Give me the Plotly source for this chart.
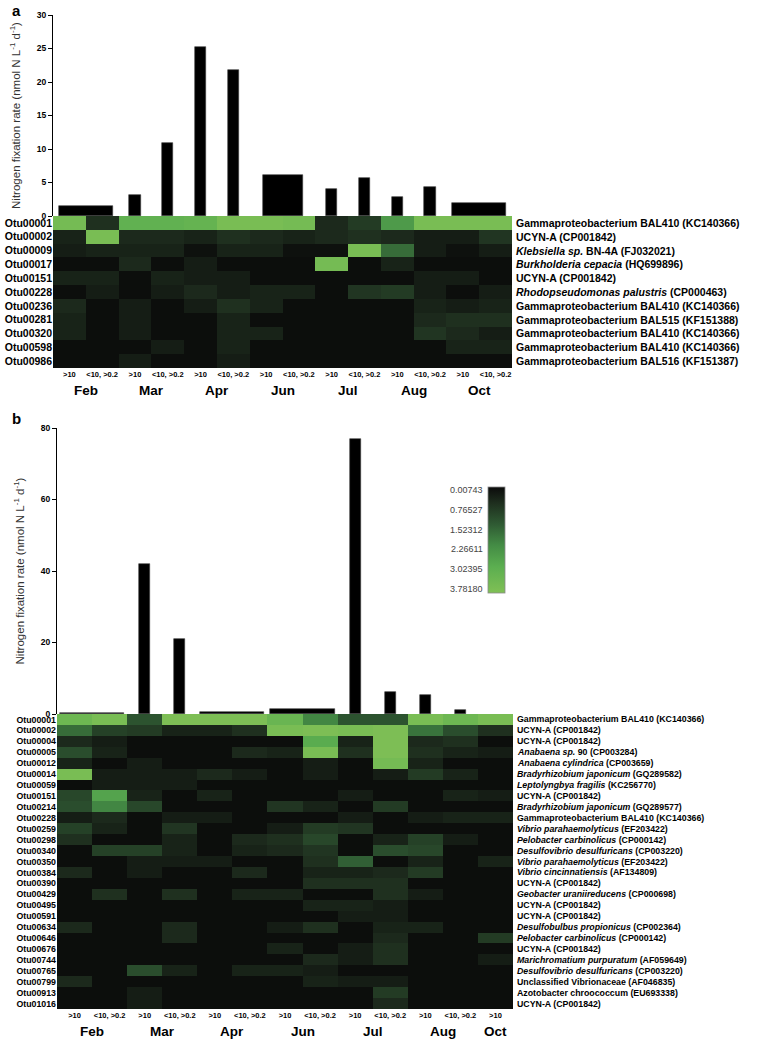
import plotly.graph_objects as go

W, H = 758, 1040
FONT = "Liberation Sans"

# ---- shared categories ----
months = ["Feb", "Mar", "Apr", "Jun", "Jul", "Aug", "Oct"]
fractions = [">10", "<10, >0.2"]
cols_a = [(m, f) for m in months for f in fractions]
cols_b = cols_a[:-1]  # no Oct <10, >0.2 sample in panel b

# ---- panel a: nitrogen fixation (nmol N L-1 d-1) ----
rate_a = [None, None, 3.2, 10.9, 25.2, 21.8, None, None, 4.0, 5.6, 2.8, 4.4, None, None]
bulk_months_a = ["Feb", "Jun", "Oct"]
bulk_rate_a = [1.5, 6.1, 1.9]

otu_a = ["Otu00001", "Otu00002", "Otu00009", "Otu00017", "Otu00151", "Otu00228",
         "Otu00236", "Otu00281", "Otu00320", "Otu00598", "Otu00986"]
taxa_a = [
    "Gammaproteobacterium BAL410 (KC140366)",
    "UCYN-A (CP001842)",
    "<i>Klebsiella sp.</i> BN-4A (FJ032021)",
    "<i>Burkholderia cepacia</i> (HQ699896)",
    "UCYN-A (CP001842)",
    "<i>Rhodopseudomonas palustris</i> (CP000463)",
    "Gammaproteobacterium BAL410 (KC140366)",
    "Gammaproteobacterium BAL515 (KF151388)",
    "Gammaproteobacterium BAL410 (KC140366)",
    "Gammaproteobacterium BAL410 (KC140366)",
    "Gammaproteobacterium BAL516 (KF151387)",
]
heat_a = [
    [3.5, 0.6, 3.0, 3.0, 3.1, 3.6, 3.6, 3.5, 0.5, 0.8, 2.4, 3.6, 3.6, 3.6],
    [0.4, 3.6, 0.5, 0.5, 0.4, 0.6, 0.5, 0.4, 0.5, 0.6, 0.5, 0.3, 0.3, 0.7],
    [0.3, 0.4, 0.4, 0.4, 0.1, 0.4, 0.4, 0.1, 0.1, 3.6, 1.6, 0.3, 0.1, 0.3],
    [0.05, 0.05, 0.5, 0.05, 0.3, 0.05, 0.05, 0.05, 3.5, 0.05, 0.4, 0.05, 0.05, 0.05],
    [0.4, 0.4, 0.05, 0.4, 0.3, 0.3, 0.05, 0.05, 0.05, 0.05, 0.05, 0.3, 0.3, 0.05],
    [0.05, 0.3, 0.05, 0.3, 0.5, 0.3, 0.4, 0.4, 0.05, 0.7, 0.8, 0.3, 0.05, 0.3],
    [0.5, 0.05, 0.3, 0.05, 0.3, 0.6, 0.4, 0.05, 0.05, 0.05, 0.05, 0.4, 0.3, 0.4],
    [0.4, 0.05, 0.3, 0.05, 0.05, 0.4, 0.05, 0.05, 0.05, 0.05, 0.05, 0.5, 0.6, 0.6],
    [0.4, 0.05, 0.3, 0.05, 0.05, 0.4, 0.4, 0.05, 0.05, 0.05, 0.05, 0.7, 0.5, 0.3],
    [0.05, 0.05, 0.05, 0.3, 0.05, 0.4, 0.05, 0.05, 0.05, 0.05, 0.05, 0.05, 0.4, 0.4],
    [0.05, 0.05, 0.3, 0.05, 0.05, 0.3, 0.05, 0.05, 0.05, 0.05, 0.05, 0.05, 0.05, 0.05],
]

# ---- panel b ----
rate_b = [None, None, 42.0, 20.9, None, None, None, None, 77.0, 6.2, 5.3, 1.1, None]
bulk_months_b = ["Feb", "Apr", "Jun"]
bulk_rate_b = [0.2, 0.7, 1.5]

otu_b = ["Otu00001", "Otu00002", "Otu00004", "Otu00005", "Otu00012", "Otu00014",
         "Otu00059", "Otu00151", "Otu00214", "Otu00228", "Otu00259", "Otu00298",
         "Otu00340", "Otu00350", "Otu00384", "Otu00390", "Otu00429", "Otu00495",
         "Otu00591", "Otu00634", "Otu00646", "Otu00676", "Otu00744", "Otu00765",
         "Otu00799", "Otu00913", "Otu01016"]
taxa_b = [
    "Gammaproteobacterium BAL410 (KC140366)",
    "UCYN-A (CP001842)",
    "UCYN-A (CP001842)",
    "<i>Anabaena sp.</i> 90 (CP003284)",
    "<i>Anabaena cylindrica</i> (CP003659)",
    "<i>Bradyrhizobium japonicum</i> (GQ289582)",
    "<i>Leptolyngbya fragilis</i> (KC256770)",
    "UCYN-A (CP001842)",
    "<i>Bradyrhizobium japonicum</i> (GQ289577)",
    "Gammaproteobacterium BAL410 (KC140366)",
    "<i>Vibrio parahaemolyticus</i> (EF203422)",
    "<i>Pelobacter carbinolicus</i> (CP000142)",
    "<i>Desulfovibrio desulfuricans</i> (CP003220)",
    "<i>Vibrio parahaemolyticus</i> (EF203422)",
    "<i>Vibrio cincinnatiensis</i> (AF134809)",
    "UCYN-A (CP001842)",
    "<i>Geobacter uraniireducens</i> (CP000698)",
    "UCYN-A (CP001842)",
    "UCYN-A (CP001842)",
    "<i>Desulfobulbus propionicus</i> (CP002364)",
    "<i>Pelobacter carbinolicus</i> (CP000142)",
    "UCYN-A (CP001842)",
    "<i>Marichromatium purpuratum</i> (AF059649)",
    "<i>Desulfovibrio desulfuricans</i> (CP003220)",
    "Unclassified Vibrionaceae (AF046835)",
    "Azotobacter chroococcum (EU693338)",
    "UCYN-A (CP001842)",
]
heat_b = [
    [3.3, 3.6, 1.2, 3.7, 3.7, 3.7, 3.2, 2.0, 1.2, 1.2, 3.6, 3.3, 3.6],
    [1.6, 0.9, 0.8, 0.4, 0.4, 0.6, 3.6, 3.7, 3.6, 3.7, 1.7, 1.1, 0.6],
    [0.5, 0.3, 0.05, 0.05, 0.05, 0.05, 0.05, 2.8, 0.4, 3.7, 0.5, 0.6, 0.05],
    [1.1, 0.4, 0.05, 0.05, 0.05, 0.5, 0.4, 3.6, 0.6, 3.7, 0.6, 0.4, 0.3],
    [0.4, 0.05, 0.3, 0.05, 0.05, 0.05, 0.05, 0.3, 0.05, 3.5, 0.4, 0.05, 0.05],
    [3.6, 0.3, 0.3, 0.3, 0.5, 0.3, 0.05, 0.3, 0.05, 0.3, 0.8, 0.4, 0.05],
    [0.05, 0.3, 0.3, 0.3, 0.05, 0.05, 0.05, 0.05, 0.05, 0.05, 0.05, 0.05, 0.05],
    [1.0, 2.6, 0.4, 0.05, 0.4, 0.05, 0.05, 0.05, 0.3, 0.05, 0.05, 0.4, 0.3],
    [1.1, 2.0, 1.0, 0.05, 0.05, 0.05, 0.7, 0.4, 0.05, 0.8, 0.05, 0.05, 0.05],
    [0.3, 0.5, 0.05, 0.3, 0.3, 0.05, 0.05, 0.05, 0.3, 0.05, 0.3, 0.4, 0.4],
    [0.9, 0.4, 0.05, 0.7, 0.05, 0.05, 0.3, 0.8, 0.7, 0.05, 0.05, 0.05, 0.05],
    [0.6, 0.05, 0.05, 0.4, 0.05, 0.5, 0.6, 1.0, 0.05, 0.4, 0.9, 0.3, 0.05],
    [0.05, 0.9, 0.9, 0.4, 0.05, 0.4, 0.5, 0.7, 0.05, 1.1, 1.0, 0.05, 0.05],
    [0.05, 0.05, 0.3, 0.3, 0.3, 0.05, 0.05, 0.6, 1.4, 0.05, 0.4, 0.05, 0.4],
    [0.5, 0.05, 0.3, 0.05, 0.05, 0.5, 0.05, 0.4, 0.4, 0.5, 0.8, 0.05, 0.05],
    [0.05, 0.05, 0.05, 0.05, 0.05, 0.05, 0.05, 0.6, 0.6, 0.6, 0.05, 0.05, 0.05],
    [0.05, 0.6, 0.05, 0.6, 0.05, 0.4, 0.4, 0.05, 0.05, 0.6, 0.3, 0.05, 0.05],
    [0.05, 0.05, 0.05, 0.05, 0.05, 0.05, 0.05, 0.4, 0.4, 0.3, 0.05, 0.05, 0.05],
    [0.05, 0.05, 0.05, 0.05, 0.05, 0.05, 0.05, 0.05, 0.3, 0.3, 0.05, 0.05, 0.05],
    [0.5, 0.05, 0.05, 0.5, 0.05, 0.05, 0.3, 0.6, 0.05, 0.4, 0.4, 0.05, 0.05],
    [0.05, 0.05, 0.05, 0.5, 0.05, 0.05, 0.05, 0.05, 0.05, 0.5, 0.05, 0.05, 0.8],
    [0.05, 0.05, 0.05, 0.05, 0.05, 0.05, 0.4, 0.05, 0.3, 0.6, 0.05, 0.05, 0.05],
    [0.05, 0.05, 0.05, 0.05, 0.05, 0.05, 0.05, 0.5, 0.3, 0.6, 0.05, 0.05, 0.3],
    [0.05, 0.05, 1.1, 0.4, 0.05, 0.4, 0.4, 0.3, 0.05, 0.05, 0.05, 0.05, 0.05],
    [0.5, 0.05, 0.05, 0.05, 0.05, 0.05, 0.05, 0.4, 0.3, 0.3, 0.05, 0.05, 0.05],
    [0.05, 0.05, 0.3, 0.05, 0.05, 0.05, 0.05, 0.05, 0.05, 0.8, 0.05, 0.05, 0.05],
    [0.05, 0.05, 0.3, 0.05, 0.05, 0.05, 0.05, 0.05, 0.05, 0.5, 0.05, 0.05, 0.05],
]

# colour bar ticks (relative abundance scale)
cbar_ticks = [0.00743, 0.76527, 1.52312, 2.26611, 3.02395, 3.78180]

YTITLE = "Nitrogen fixation rate (nmol N L<sup>-1</sup> d<sup>-1</sup>)"
ZMIN, ZMAX = cbar_ticks[0], cbar_ticks[-1]
# values are negated so the colour bar runs dark (low) at top -> green (high) at bottom
GREENS = [[0.0, "#80c055"], [0.25, "#5bae50"], [0.45, "#448c45"],
          [0.65, "#2f5a33"], [0.85, "#1e2e1e"], [1.0, "#0b0b0b"]]


def px_x(p):
    return p / W


def px_y(p):
    return 1 - p / H


def bar_traces(cols, rates, bulk_months, bulk_rates, xa, ya, narrow, bulk_width):
    xs = [i for i, r in enumerate(rates) if r is not None]
    ys = [r for r in rates if r is not None]
    labels = [f"{cols[i][0]} {cols[i][1]}" for i in xs]
    bx, bw = [], []
    for m in bulk_months:
        idx = [i for i, c in enumerate(cols) if c[0] == m]
        bx.append(sum(idx) / len(idx))
        bw.append(bulk_width.get(m, 1.6))
    line = dict(color="#3a3a3a", width=0.6)
    return [
        go.Bar(x=xs, y=ys, width=narrow, marker=dict(color="black", line=line),
               xaxis=xa, yaxis=ya, showlegend=False, customdata=labels,
               hovertemplate="%{customdata}: %{y}<extra></extra>"),
        go.Bar(x=bx, y=bulk_rates, width=bw, marker=dict(color="black", line=line),
               xaxis=xa, yaxis=ya, showlegend=False, customdata=bulk_months,
               hovertemplate="%{customdata} (total): %{y}<extra></extra>"),
    ]


def heat_trace(z, otus, cols, xa, ya, showscale):
    neg = [[-v for v in row] for row in z]
    return go.Heatmap(
        z=neg, customdata=z, x=list(range(len(cols))), y=list(range(len(otus))),
        colorscale=GREENS, zmin=-ZMAX, zmax=-ZMIN, xaxis=xa, yaxis=ya,
        showscale=showscale, xgap=0, ygap=0,
        hovertemplate="%{customdata:.3f}<extra></extra>",
        colorbar=dict(x=px_x(488), xanchor="left", y=px_y(540), yanchor="middle",
                      len=106 / H, lenmode="fraction", thickness=17, xpad=0, ypad=0,
                      outlinewidth=0.8, outlinecolor="#8a8a8a",
                      showticklabels=False, ticks=""),
    )


fig = go.Figure()
for t in bar_traces(cols_a, rate_a, bulk_months_a, bulk_rate_a, "x", "y", 0.34,
                    {"Feb": 1.65, "Jun": 1.22, "Oct": 1.65}):
    fig.add_trace(t)
fig.add_trace(heat_trace(heat_a, otu_a, cols_a, "x2", "y2", False))
for t in bar_traces(cols_b, rate_b, bulk_months_b, bulk_rate_b, "x3", "y3", 0.31,
                    {"Feb": 1.83, "Apr": 1.83, "Jun": 1.83}):
    fig.add_trace(t)
fig.add_trace(heat_trace(heat_b, otu_b, cols_b, "x4", "y4", True))

bold = dict(family=FONT, color="black", weight=700)


def bar_yaxis(domain, rng, dtick, anchor):
    return dict(domain=domain, range=rng, dtick=dtick, anchor=anchor, showline=True,
                linecolor="black", linewidth=1.3, ticks="outside", ticklen=4,
                tickwidth=1.3, tickcolor="black", showgrid=False, zeroline=False,
                tickfont=dict(bold, size=8.5), automargin=False,
                title=dict(text=YTITLE, font=dict(family=FONT, size=11.5, color="#333"),
                           standoff=13))


def hide_x(domain, n, anchor):
    return dict(domain=domain, range=[-0.5, n - 0.5], visible=False, anchor=anchor)


def heat_xaxis(domain, cols, anchor):
    return dict(domain=domain, range=[-0.5, len(cols) - 0.5], anchor=anchor,
                tickvals=list(range(len(cols))), ticktext=[c[1] for c in cols],
                ticks="", showline=False, showgrid=False, zeroline=False,
                tickfont=dict(bold, size=7.5), automargin=False)


def heat_yaxis(domain, otus, anchor, size):
    return dict(domain=domain, range=[len(otus) - 0.5, -0.5], anchor=anchor,
                tickvals=list(range(len(otus))), ticktext=otus, ticks="",
                showline=False, showgrid=False, zeroline=False,
                tickfont=dict(bold, size=size), automargin=False)


xa = [px_x(53), px_x(512)]
xb = [px_x(57), px_x(513)]

fig.update_layout(
    width=W, height=H, margin=dict(l=0, r=0, t=0, b=0),
    paper_bgcolor="white", plot_bgcolor="white", bargap=0, barmode="overlay",
    xaxis=hide_x(xa, len(cols_a), "y"),
    yaxis=bar_yaxis([px_y(216), px_y(15)], [0, 30], 5, "x"),
    xaxis2=heat_xaxis(xa, cols_a, "y2"),
    yaxis2=heat_yaxis([px_y(368), px_y(216)], otu_a, "x2", 10.5),
    xaxis3=hide_x(xb, len(cols_b), "y3"),
    yaxis3=bar_yaxis([px_y(714), px_y(428)], [0, 80], 20, "x3"),
    xaxis4=heat_xaxis(xb, cols_b, "y4"),
    yaxis4=heat_yaxis([px_y(1009), px_y(714)], otu_b, "x4", 8.8),
)

ann = []
# panel letters
ann.append(dict(text="a", x=px_x(10), y=px_y(0), xref="paper", yref="paper",
                showarrow=False, font=dict(bold, size=15), xanchor="left", yanchor="top"))
ann.append(dict(text="b", x=px_x(10), y=px_y(418), xref="paper", yref="paper",
                showarrow=False, font=dict(bold, size=15), xanchor="left", yanchor="middle"))


def month_labels(cols, xref, ypx):
    for m in months:
        idx = [i for i, c in enumerate(cols) if c[0] == m]
        ann.append(dict(text=m, x=sum(idx) / len(idx), xref=xref, y=px_y(ypx),
                        yref="paper", showarrow=False, font=dict(bold, size=13.5),
                        yanchor="middle"))


def taxa_labels(taxa, yref, xpx, size):
    for i, t in enumerate(taxa):
        ann.append(dict(text=t, x=px_x(xpx), xref="paper", y=i, yref=yref,
                        showarrow=False, xanchor="left", yanchor="middle",
                        font=dict(bold, size=size)))


month_labels(cols_a, "x2", 390)
month_labels(cols_b, "x4", 1031)
taxa_labels(taxa_a, "y2", 514, 10.5)
taxa_labels(taxa_b, "y4", 515, 8.8)

# colour bar labels, left of the bar
top_px, bot_px = 490, 589
for v in cbar_ticks:
    ypx = top_px + (v - ZMIN) / (ZMAX - ZMIN) * (bot_px - top_px)
    ann.append(dict(text=f"{v:.5f}", x=px_x(485), xref="paper", y=px_y(ypx),
                    yref="paper", showarrow=False, xanchor="right", yanchor="middle",
                    font=dict(family=FONT, size=9, color="#444")))

fig.update_layout(annotations=ann)
# drop the browser's default 8px body margin so the figure fills the window exactly
fig.write_html("out.html", config={"displayModeBar": False},
               post_script="document.body.style.margin = '0';")
